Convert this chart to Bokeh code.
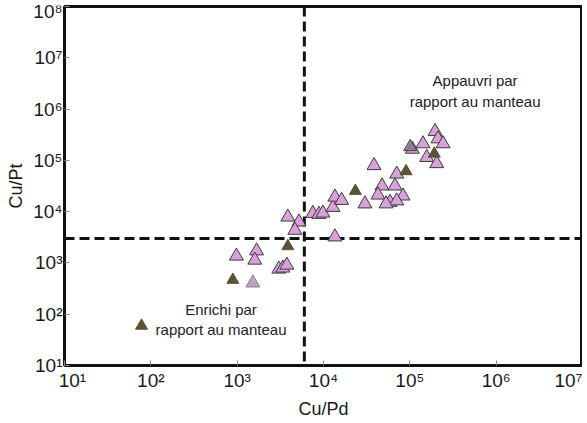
from bokeh.plotting import figure
from bokeh.models import FixedTicker, Span
from bokeh.core.properties import value
from bokeh.embed import file_html
from bokeh.resources import INLINE

# ---- data ----
pink_x = [980, 1680, 1600, 3040, 3380, 3760,
          3860, 5190, 4660, 7530, 8850, 9840, 12850, 13550, 16220, 13550,
          30200, 38460, 70500, 47600, 67300, 42800, 83400, 58900, 70500, 53000,
          196000, 212000, 243000, 142000, 107000, 157000, 205000]
pink_y = [1360, 1720, 1135, 760, 796, 906,
          7860, 6290, 4340, 9240, 8860, 9390, 12110, 19200, 16570, 3220,
          14170, 79000, 54000, 31700, 31700, 21100, 20200, 15200, 16200, 14200,
          365000, 263000, 211000, 211000, 165000, 114000, 86400]

lilac_x = [1520]
lilac_y = [407]

gray_x = [101000]
gray_y = [183000]

dark_x = [78, 890, 3860, 23400, 90400, 192000]
dark_y = [59.5, 467, 2120, 25300, 61300, 135000]

NB = "\u00a0"
x_ticks = [10, 100, 1000, 10000, 100000, 1000000, 10000000]
x_tick_labels = [NB * 3 + "10\u00b9", "10\u00b2", "10\u00b3", "10\u2074", "10\u2075", "10\u2076",
                 "10\u2077"]
y_ticks = [10, 100, 1000, 10000, 100000, 1000000, 10000000, 100000000]
y_tick_labels = ["10\u00b9", "10\u00b2", "10\u00b3", "10\u2074", "10\u2075", "10\u2076", "10\u2077",
                 "10\u2078"]

cu_pd_limit = 6000
cu_pt_limit = 3000

notes = ["Appauvri par\nrapport au manteau", "Enrichi par\nrapport au manteau"]
notes_x = [570000, 650]
notes_y = [2250000, 78]

FONT = "Liberation Sans"

p = figure(width=582, height=421, x_axis_type="log", y_axis_type="log",
           x_range=(10, 1e7), y_range=(10, 1e8),
           output_backend="svg", toolbar_location=None,
           min_border_left=64, min_border_right=0, min_border_top=6, min_border_bottom=54)

p.grid.visible = False
p.background_fill_color = "white"
p.border_fill_color = "white"
p.outline_line_color = "#111111"
p.outline_line_width = 3
p.outline_line_alpha = 1.0

for ax in (p.xaxis, p.yaxis):
    ax.axis_line_color = None
    ax.major_tick_in = 5
    ax.major_tick_out = 0
    ax.major_tick_line_color = "#8a8a8a"
    ax.major_tick_line_width = 1
    ax.minor_tick_line_color = None
    ax.major_label_text_font = FONT
    ax.major_label_text_font_size = "19px"
    ax.major_label_text_color = "#1a1a1a"
    ax.axis_label_text_font = FONT
    ax.axis_label_text_font_size = "18px"
    ax.axis_label_text_font_style = "normal"
    ax.axis_label_text_color = "#1a1a1a"

p.xaxis.ticker = FixedTicker(ticks=x_ticks)
p.yaxis.ticker = FixedTicker(ticks=y_ticks)
p.xaxis.major_label_overrides = {t: s for t, s in zip(x_ticks, x_tick_labels)}
p.yaxis.major_label_overrides = {t: s for t, s in zip(y_ticks, y_tick_labels)}
p.xaxis.major_label_standoff = 4
p.yaxis.major_label_standoff = 2
p.xaxis.axis_label = "Cu/Pd"
p.yaxis.axis_label = "Cu/Pt"
p.xaxis.axis_label_standoff = 5
p.yaxis.axis_label_standoff = 4

# threshold lines
vline = Span(location=cu_pd_limit, dimension="height", line_color="#111111",
             line_width=3, line_dash="10 5", level="underlay")
hline = Span(location=cu_pt_limit, dimension="width", line_color="#111111",
             line_width=3, line_dash="10 5", level="underlay")
p.add_layout(vline)
p.add_layout(hline)

p.scatter(pink_x, pink_y, marker="triangle", size=14, fill_color="#d9a0d9",
          line_color="#3c3c3c", line_width=1)
p.scatter(lilac_x, lilac_y, marker="triangle", size=14, fill_color="#bba3c2",
          line_color="#8d8090", line_width=1)
p.scatter(gray_x, gray_y, marker="triangle", size=13, fill_color="#857888",
          fill_alpha=0.85, line_color="#444444", line_width=1)
p.scatter(dark_x, dark_y, marker="triangle", size=12, fill_color="#5c5334",
          line_color="#5c5334", line_width=1)

p.text(x=notes_x, y=notes_y, text=notes, text_font=value(FONT), text_font_size="15px",
       text_color="#222222", text_align="center", text_baseline="middle", text_line_height=1.2)

open("out.html", "w").write(file_html(p, INLINE))
